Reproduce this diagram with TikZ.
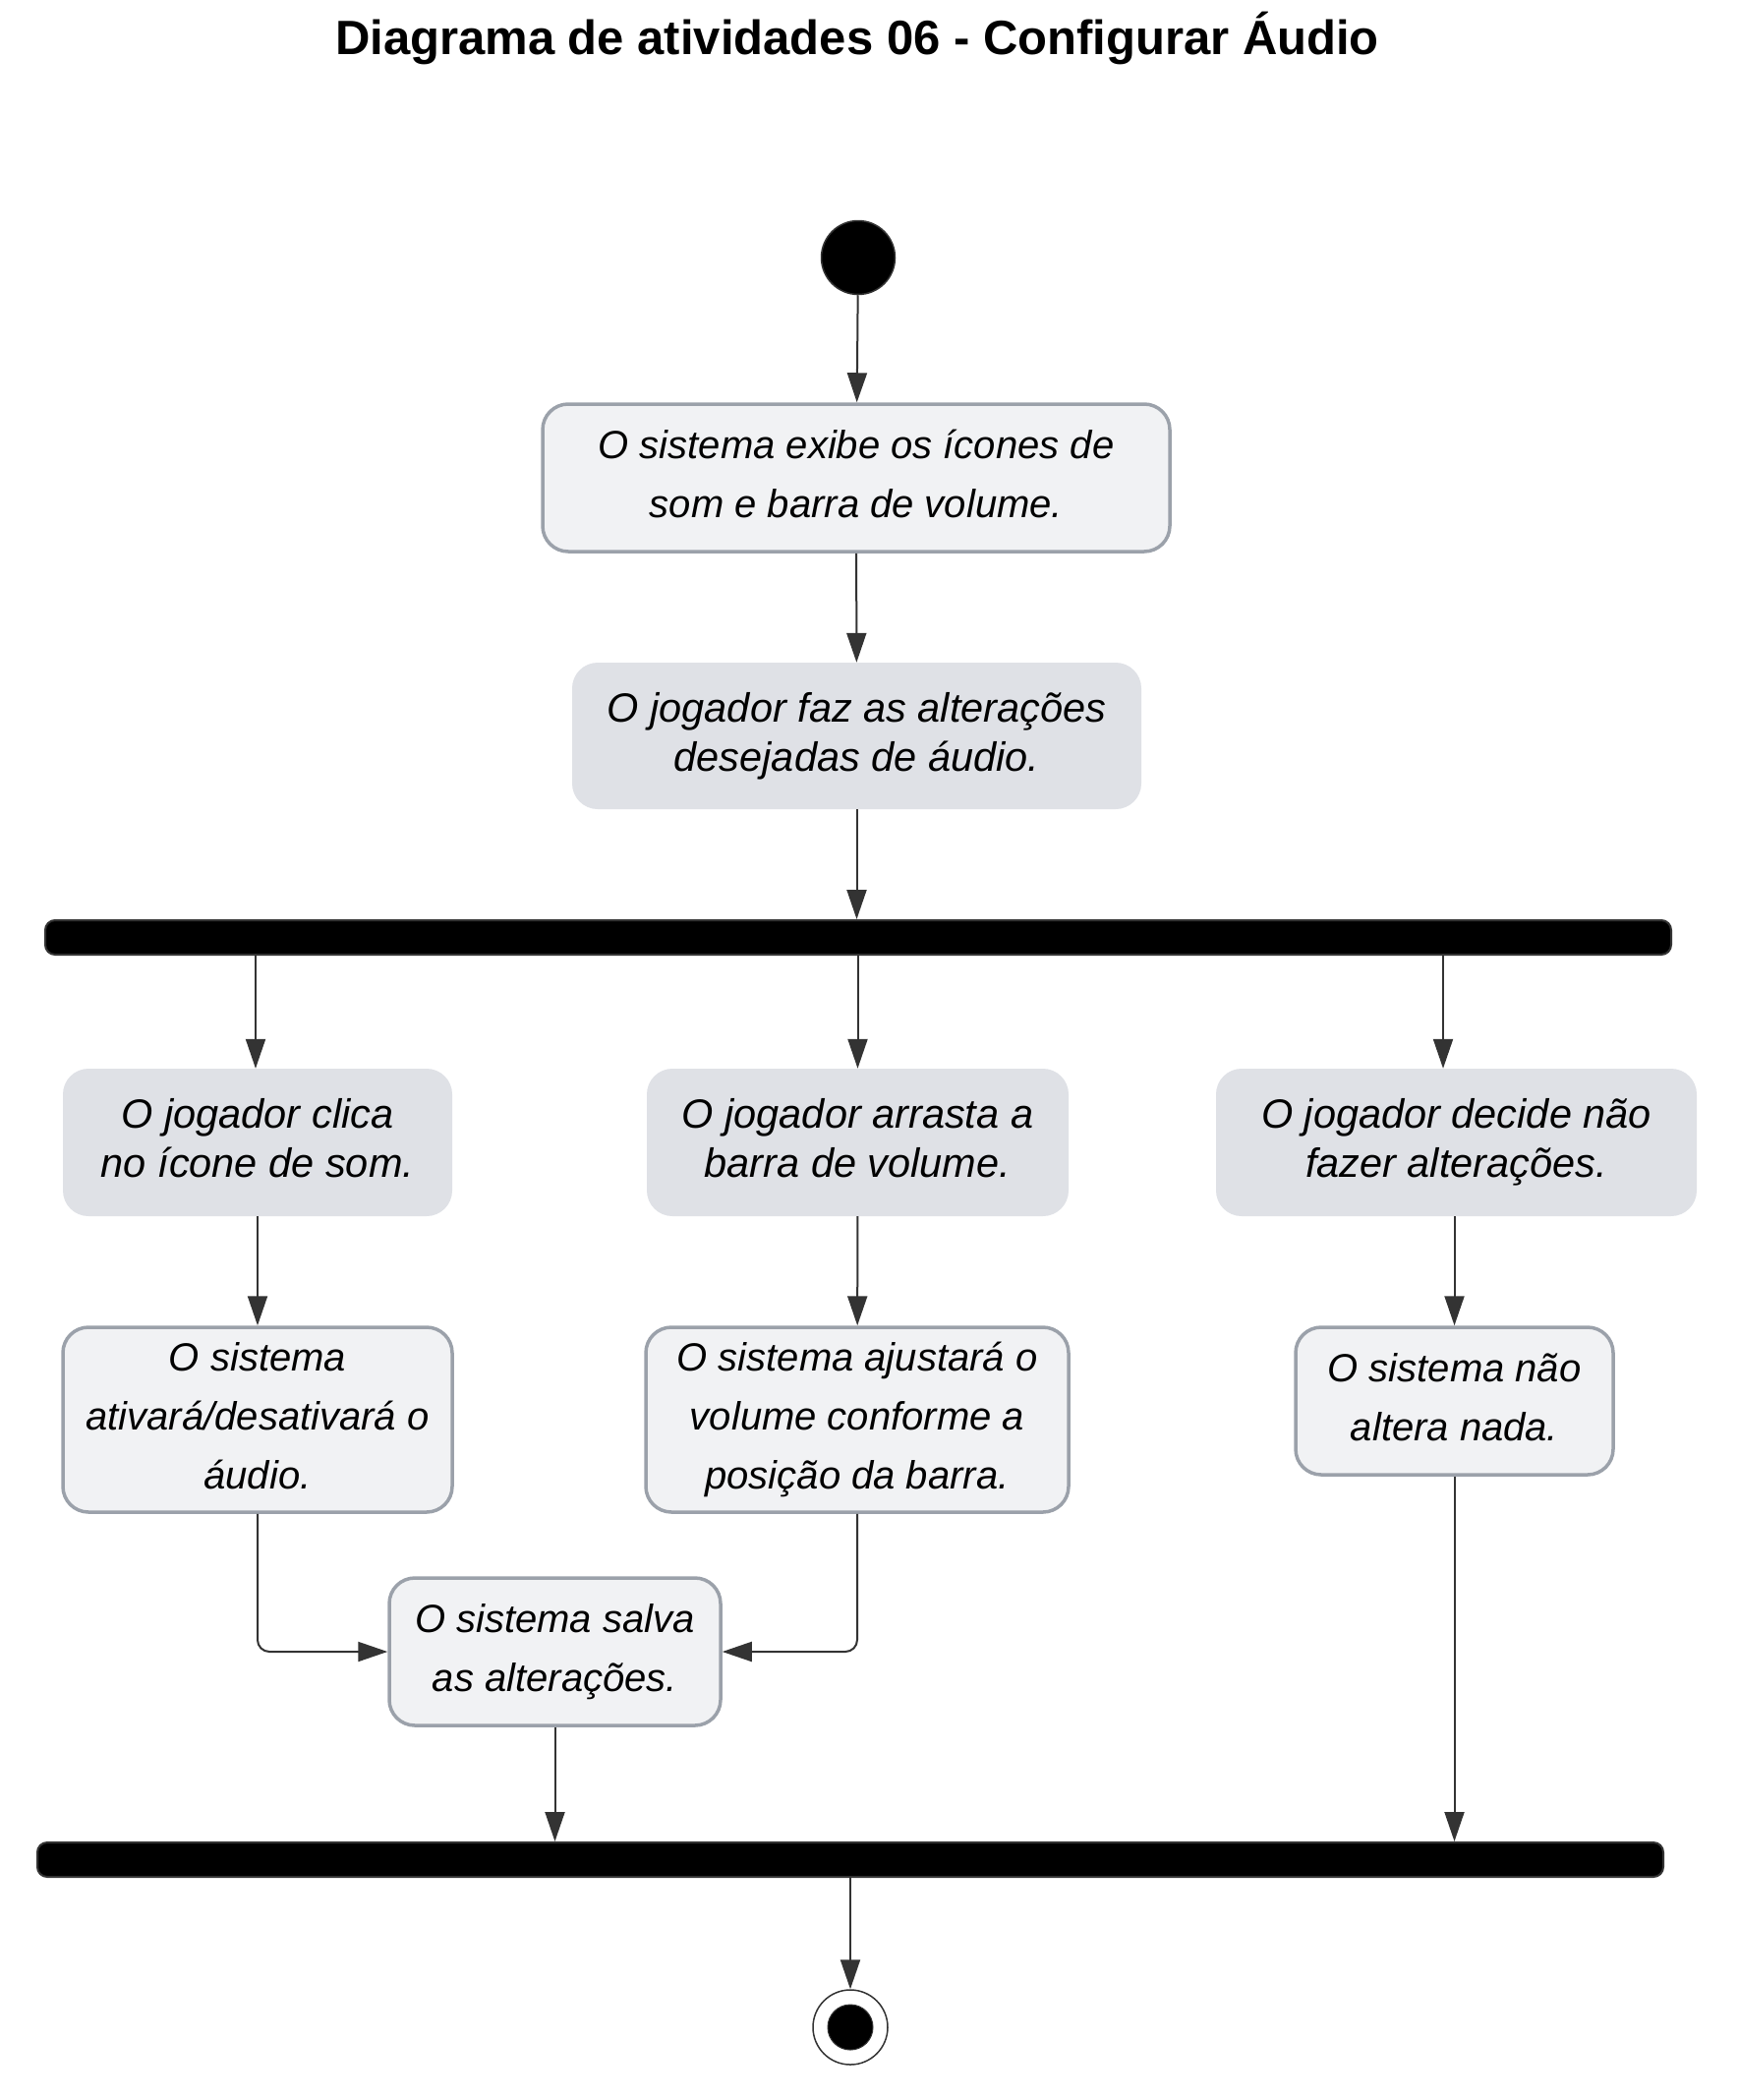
\documentclass[tikz,border=0pt]{standalone}
\usepackage{fontspec}
\setmainfont{Liberation Sans}
\usepackage{tikz}
\usetikzlibrary{calc}
\usetikzlibrary{arrows.meta}

\definecolor{sysfill}{HTML}{F1F2F4}
\definecolor{userfill}{HTML}{DFE1E6}
\definecolor{sysborder}{HTML}{9BA1AA}
\definecolor{linegray}{HTML}{333333}

\tikzset{
  actstrut/.style={execute at begin node={\rule{0pt}{#1}},
    execute at end node={\rule[-9pt]{0pt}{9pt}}},
  actstrut/.default=30pt,
  sysact/.style={draw=sysborder, line width=3.5pt, fill=sysfill, rounded corners=26pt,
    align=center, inner sep=0pt, actstrut, font=\fontsize{40}{60}\selectfont\itshape},
  useract/.style={fill=userfill, rounded corners=26pt,
    align=center, inner sep=0pt, actstrut, font=\fontsize{41.5}{50}\selectfont\itshape},
  syncbar/.style={fill=black, draw=linegray, line width=2pt, rounded corners=10pt,
    minimum width=1654pt, minimum height=35pt, inner sep=0pt},
  flow/.style={draw=linegray, line width=2pt, -{Triangle[length=30pt,width=20pt]}}
}

\begin{document}
\begin{tikzpicture}[x=1pt, y=-1pt]
\useasboundingbox (0,0) rectangle (1768,2136);

% Title
\node (title) at (872,39) {\fontsize{49}{58}\selectfont\bfseries Diagrama de atividades 06 - Configurar Áudio};

% Start point
\node[circle, fill=black, draw=linegray, line width=1.5pt, minimum size=75pt, inner sep=0pt] (start) at (873,262) {};

% Actions before the fork
\node[sysact, minimum width=638pt, minimum height=150pt] (showIcons) at (871,486)
  {O sistema exibe os ícones de\\som e barra de volume.};
\node[useract, minimum width=579pt, minimum height=149pt] (playerEdit) at (871.5,748.5)
  {O jogador faz as alterações\\desejadas de áudio.};

% Fork bar
\node[syncbar] (fork) at (873,953.5) {};

% Three branches
\node[useract, minimum width=396pt, minimum height=150pt] (clickIcon) at (262,1162)
  {O jogador clica\\no ícone de som.};
\node[useract, minimum width=429pt, minimum height=150pt] (dragBar) at (872.5,1162)
  {O jogador arrasta a\\barra de volume.};
\node[useract, minimum width=489pt, minimum height=150pt] (noChange) at (1481.5,1162)
  {O jogador decide não\\fazer alterações.};

\node[sysact, actstrut=38pt, minimum width=396pt, minimum height=188pt] (toggleAudio) at (262,1444)
  {O sistema\\ativará/desativará o\\áudio.};
\node[sysact, actstrut=38pt, minimum width=430pt, minimum height=188pt] (adjustVol) at (872,1444)
  {O sistema ajustará o\\volume conforme a\\posição da barra.};
\node[sysact, minimum width=323pt, minimum height=150pt] (sysNothing) at (1479.5,1425)
  {O sistema não\\altera nada.};

\node[sysact, minimum width=337pt, minimum height=150pt] (saveChanges) at (564.5,1680)
  {O sistema salva\\as alterações.};

% Join bar
\node[syncbar] (join) at (865,1891.5) {};

% End point
\node[circle, draw=linegray, line width=1.5pt, minimum size=76pt, inner sep=0pt] (finish) at (865,2062) {};
\node[circle, fill=black, draw=linegray, line width=1pt, minimum size=46pt, inner sep=0pt] (finishDot) at (finish) {};

% Connectors
\draw[flow] (start) -- (showIcons);
\draw[flow] (showIcons) -- (playerEdit);
\draw[flow] (playerEdit.south) -- (playerEdit.south |- fork.north);
\draw[flow] (fork.south -| 260,0) -- (clickIcon.north -| 260,0);
\draw[flow] (fork.south -| dragBar.north) -- (dragBar.north);
\draw[flow] (fork.south -| 1468,0) -- (noChange.north -| 1468,0);
\draw[flow] (clickIcon) -- (toggleAudio);
\draw[flow] (dragBar) -- (adjustVol);
\draw[flow] (noChange.south -| sysNothing.north) -- (sysNothing.north);
\draw[flow, rounded corners=12pt] (toggleAudio.south) |- (saveChanges.west);
\draw[flow, rounded corners=12pt] (adjustVol.south) |- (saveChanges.east);
\draw[flow] (saveChanges.south) -- (saveChanges.south |- join.north);
\draw[flow] (sysNothing.south) -- (sysNothing.south |- join.north);
\draw[flow] (join.south -| finish.north) -- (finish.north);

\end{tikzpicture}
\end{document}
